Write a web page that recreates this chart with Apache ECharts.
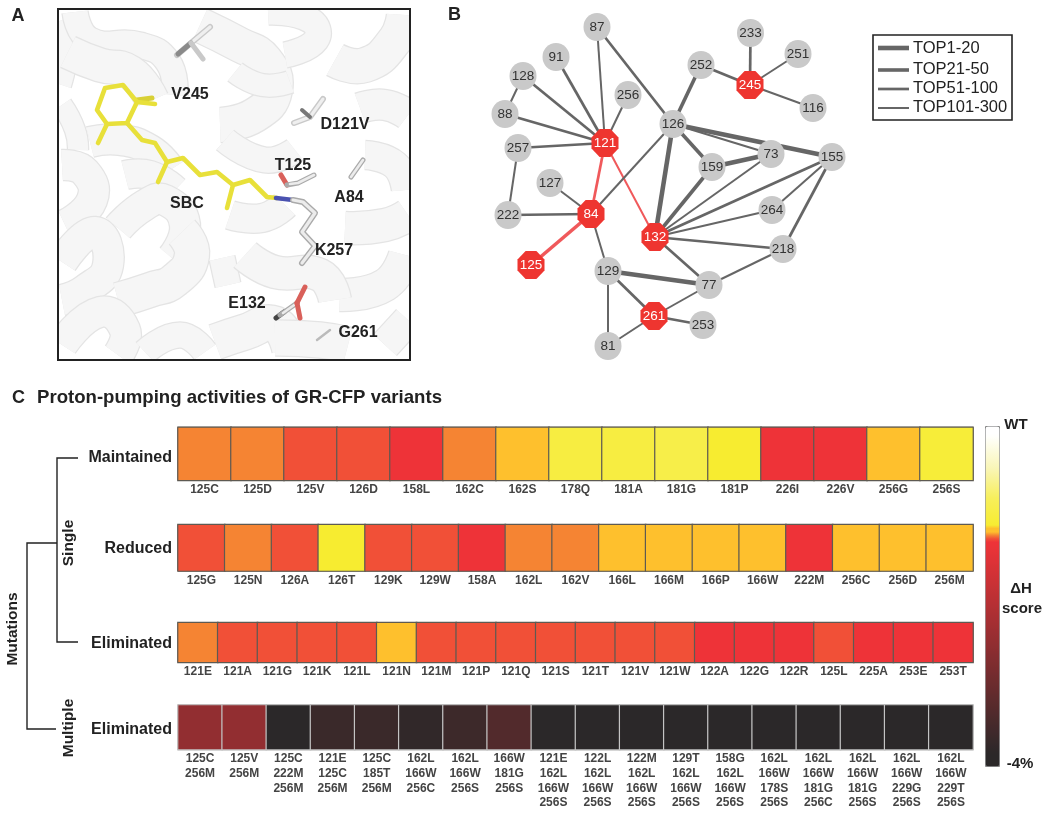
<!DOCTYPE html>
<html><head><meta charset="utf-8">
<style>html,body{margin:0;padding:0;background:#fff}#c{width:1050px;height:814px}</style>
<script src="https://cdn.jsdelivr.net/npm/echarts@6/dist/echarts.min.js"></script>
</head><body><div id="c"></div>
<script>
// ---------- Panel C data ----------
const maintainedCats = ['125C','125D','125V','126D','158L','162C','162S','178Q','181A','181G','181P','226I','226V','256G','256S'];
const maintainedVals = [-1.28,-1.28,-1.33,-1.33,-1.37,-1.28,-1.22,-1.04,-1.04,-0.98,-1.17,-1.37,-1.37,-1.22,-1.1];
const reducedCats = ['125G','125N','126A','126T','129K','129W','158A','162L','162V','166L','166M','166P','166W','222M','256C','256D','256M'];
const reducedVals = [-1.33,-1.28,-1.33,-1.17,-1.33,-1.33,-1.37,-1.28,-1.28,-1.22,-1.22,-1.22,-1.22,-1.37,-1.22,-1.22,-1.22];
const eliminatedCats = ['121E','121A','121G','121K','121L','121N','121M','121P','121Q','121S','121T','121V','121W','122A','122G','122R','125L','225A','253E','253T'];
const eliminatedVals = [-1.28,-1.33,-1.33,-1.33,-1.33,-1.22,-1.33,-1.33,-1.33,-1.33,-1.33,-1.33,-1.33,-1.37,-1.37,-1.37,-1.33,-1.37,-1.37,-1.37];
const multipleCats = ['125C\n256M','125V\n256M','125C\n222M\n256M','121E\n125C\n256M','125C\n185T\n256M','162L\n166W\n256C','162L\n166W\n256S','166W\n181G\n256S','121E\n162L\n166W\n256S','122L\n162L\n166W\n256S','122M\n162L\n166W\n256S','129T\n162L\n166W\n256S','158G\n162L\n166W\n256S','162L\n166W\n178S\n256S','162L\n166W\n181G\n256C','162L\n166W\n181G\n256S','162L\n166W\n229G\n256S','162L\n166W\n229T\n256S'];
const multipleVals = [-2.54,-2.54,-4,-3.66,-3.66,-3.78,-3.62,-3.35,-4,-4,-4,-4,-4,-4,-4,-4,-4,-4];
const rowNames = ['Maintained','Reduced','Eliminated','Eliminated'];

// ---------- Panel B data ----------
const nodeIds = ['87','91','128','88','256','121','257','126','252','245','233','251','116','73','155','159','127','84','222','132','264','218','125','129','77','261','253','81'];
const nodeX =   [597,556,523,505,628,605,518,673,701,750,750.5,798,813,771,832,712,550,591,508,655,772,783,531,608,709,654,703,608];
const nodeY =   [27,57,76,114,95,143,148,124,65,85,33,54,108,154,157,167,183,214,215,237,210,249,265,271,285,316,325,346];
const hubIds = ['121','245','84','132','125','261'];
const edgeFrom = ['87','87','91','128','128','88','256','257','257','222','127','121','121','84','84','84','126','252','245','245','245','126','126','126','126','159','159','73','155','155','155','264','218','218','132','129','129','129','77','261','261'];
const edgeTo   = ['121','126','121','121','88','121','121','121','222','84','84','84','132','125','126','129','252','245','233','251','116','73','155','159','132','73','132','132','132','264','218','132','132','77','77','77','261','81','261','253','81'];
const edgeTier = [4,3,3,3,4,3,4,3,4,3,4,3,4,2,4,4,2,3,3,4,4,4,1,2,1,1,2,4,3,4,3,4,3,4,3,1,3,4,4,3,4];
const tierNames = ['TOP1-20','TOP21-50','TOP51-100','TOP101-300'];

// ---------- Styling / layout ----------
const tierWidth = {1:4.6,2:3.6,3:2.7,4:2};
const octagon = 'path://M30,0 L70,0 L100,30 L100,70 L70,100 L30,100 L0,70 L0,30 Z';
const colorStops = [[-4,'#2b2829'],[-3.85,'#2b2829'],[-1.38,'#ee3338'],[-1.36,'#ee3338'],[-1.35,'#f15037'],[-1.31,'#f15037'],[-1.30,'#f58433'],[-1.26,'#f58433'],[-1.25,'#fec02d'],[-1.19,'#fec02d'],[-1.18,'#f7ec2f'],[-0.85,'#f7ef5a'],[-0.5,'#f9f5b5'],[-0.1,'#ffffff'],[0,'#ffffff']];
function hex(c){return [1,3,5].map(i=>parseInt(c.substr(i,2),16));}
const ramp=[];
for(let k=0;k<=400;k++){const v=-4+k*0.01;let j=0;while(j<colorStops.length-2&&v>colorStops[j+1][0])j++;
  const a=colorStops[j],b=colorStops[j+1],f=Math.min(1,Math.max(0,(v-a[0])/(b[0]-a[0])));
  const ca=hex(a[1]),cb=hex(b[1]);ramp.push('rgb('+ca.map((x,i)=>Math.round(x+(cb[i]-x)*f)).join(',')+')');}

const rows=[
 {cats:maintainedCats,vals:maintainedVals,top:427.3,h:53,border:'#5e5a52',frame:'#666',shift:4},
 {cats:reducedCats,vals:reducedVals,top:524.7,h:46.3,border:'#5e5a52',frame:'#666',shift:1},
 {cats:eliminatedCats,vals:eliminatedVals,top:622.7,h:39.6,border:'#5e5a52',frame:'#666',shift:1.5},
 {cats:multipleCats,vals:multipleVals,top:705,h:44.7,border:'#c4c4c4',frame:'#888',shift:2}];

const grids=[{left:0,top:0,width:1050,height:814,show:false}];
const xAxes=[{gridIndex:0,type:'value',min:0,max:1050,show:false}];
const yAxes=[{gridIndex:0,type:'value',min:0,max:814,inverse:true,show:false}];
const series=[];
rows.forEach((r,i)=>{
  const g=i+1;
  grids.push({left:178,width:795,top:r.top,height:r.h,show:true,borderColor:r.frame,borderWidth:1,backgroundColor:'transparent'});
  xAxes.push({gridIndex:g,type:'category',data:r.cats,axisLine:{show:false},axisTick:{show:false},splitLine:{show:false},
    axisLabel:{interval:0,margin:2,color:'#444',fontFamily:'Liberation Sans',fontSize:12,fontWeight:'bold',lineHeight:14.7,verticalAlign:'top'}});
  yAxes.push({gridIndex:g,type:'category',data:[rowNames[i]],axisLine:{show:false},axisTick:{show:false},splitLine:{show:false},
    axisLabel:{margin:6,formatter:v=>'{a|'+v+'}',rich:{a:{color:'#222',fontFamily:'Liberation Sans',fontSize:16,fontWeight:'bold',padding:[r.shift*2,0,0,0]}}}});
  series.push({type:'heatmap',xAxisIndex:g,yAxisIndex:g,data:r.vals.map((v,k)=>[k,0,v]),
    itemStyle:{borderColor:r.border,borderWidth:1.2},emphasis:{disabled:true},silent:true,animation:false});
});
const heatIdx=[0,1,2,3];

// Panel A: cartoon backdrop as ribbons and stick residues, in the same hidden pixel axes
const ribbons=[
 {w:18,p:[[62,20],[68,50],[62,85]]},
 {w:25,p:[[75,12],[90,40],[140,45],[168,62],[175,95]]},
 {w:33,p:[[68,52],[100,65],[130,72],[152,100]]},
 {w:20,p:[[62,105],[75,130],[78,150]]},
 {w:30,p:[[90,142],[120,140],[150,150],[170,170]]},
 {w:28,p:[[125,175],[150,175],[175,190]]},
 {w:30,p:[[62,165],[85,172],[92,200],[65,225]]},
 {w:30,p:[[62,262],[95,232],[108,265],[85,290],[62,300]]},
 {w:30,p:[[118,228],[145,205],[165,200],[185,225],[172,258]]},
 {w:34,p:[[118,300],[150,290],[175,280],[192,255],[182,232]]},
 {w:30,p:[[62,345],[100,312],[125,330],[118,355]]},
 {w:25,p:[[145,352],[180,335],[205,352]]},
 {w:34,p:[[220,125],[255,115],[275,90],[265,60],[240,45],[200,25]]},
 {w:25,p:[[268,12],[310,20],[316,40],[285,55]]},
 {w:22,p:[[235,72],[262,85],[290,82]]},
 {w:25,p:[[225,140],[265,160],[295,150]]},
 {w:28,p:[[230,215],[262,218],[285,205]]},
 {w:34,p:[[335,60],[365,65],[395,40],[404,15]]},
 {w:30,p:[[360,108],[385,105],[408,115]]},
 {w:28,p:[[365,155],[395,165],[406,190]]},
 {w:32,p:[[345,228],[385,225],[408,215]]},
 {w:32,p:[[340,295],[385,285],[405,255]]},
 {w:25,p:[[222,258],[228,285]]},
 {w:32,p:[[245,255],[275,272],[320,275],[335,300]]},
 {w:35,p:[[215,342],[245,332],[275,324],[290,350]]},
 {w:35,p:[[275,338],[320,340],[348,345]]},
 {w:30,p:[[385,345],[408,320]]}
];
const sticks=[
 {c:'#c9c9c9',w:6,p:[[177,55],[191,43],[210,27]]},{c:'#efefef',w:3.2,p:[[191,43],[210,27]]},
 {c:'#8a8a8a',w:5,p:[[178,54],[191,43]]},{c:'#c9c9c9',w:5,p:[[191,43],[203,59]]},
 {c:'#c9c9c9',w:6,p:[[294,123],[310,117],[323,99]]},{c:'#efefef',w:3,p:[[294,123],[310,117],[323,99]]},{c:'#777',w:4,p:[[310,117],[302,110]]},
 {c:'#d8d035',w:5,p:[[137,100],[152,98]]},
 {c:'#e8e03a',w:4.6,p:[[105,88],[123,85],[137,102],[127,123],[107,124],[97,110],[105,88]]},
 {c:'#e8e03a',w:4.6,p:[[107,124],[98,143]]},{c:'#e8e03a',w:4.6,p:[[137,102],[155,104]]},
 {c:'#e8e03a',w:4.6,p:[[127,123],[142,140],[155,143],[167,162],[183,158],[200,175],[217,172],[233,185],[250,180],[267,197],[277,198]]},
 {c:'#e8e03a',w:4.6,p:[[167,162],[158,182]]},{c:'#e8e03a',w:4.6,p:[[233,185],[227,208]]},
 {c:'#4a52b0',w:4.6,p:[[276,198],[293,200]]},
 {c:'#aaa',w:6,p:[[293,200],[303,202],[315,213],[302,232],[315,246],[302,263]]},{c:'#ececec',w:3.2,p:[[293,200],[303,202],[315,213],[302,232],[315,246],[302,263]]},
 {c:'#d9605a',w:5,p:[[287,185],[281,175]]},{c:'#aaa',w:5,p:[[287,185],[298,183],[314,175]]},{c:'#ececec',w:2.6,p:[[290,184],[298,183],[314,175]]},
 {c:'#aaa',w:5,p:[[351,177],[363,160]]},{c:'#ececec',w:2.6,p:[[351,177],[363,160]]},
 {c:'#444',w:5,p:[[276,318],[284,312]]},{c:'#aaa',w:5,p:[[280,315],[297,303]]},{c:'#ececec',w:2.6,p:[[283,313],[297,303]]},
 {c:'#d9605a',w:5,p:[[297,303],[305,287]]},{c:'#d9605a',w:5,p:[[297,303],[300,318]]},
 {c:'#bbb',w:2.4,p:[[317,340],[330,330]]}
];
const clipBox={type:'rect',shape:{x:59,y:10,width:350,height:349}};
series.push({type:'custom',xAxisIndex:0,yAxisIndex:0,silent:true,animation:false,z:1,data:ribbons.map((_,i)=>[i,0]),
  renderItem:(params,api)=>{const r=ribbons[api.value(0)],pts=r.p.map(p=>api.coord(p));
    return {type:'group',clipPath:clipBox,children:[
      {type:'polyline',shape:{points:pts,smooth:0.5},style:{fill:null,stroke:'#e4e4e4',lineWidth:r.w+2.5,lineCap:'butt',lineJoin:'round'}},
      {type:'polyline',shape:{points:pts,smooth:0.5},style:{fill:null,stroke:'#f6f6f6',lineWidth:r.w,lineCap:'butt',lineJoin:'round'}}]};}});
series.push({type:'custom',xAxisIndex:0,yAxisIndex:0,silent:true,animation:false,z:2,data:sticks.map((_,i)=>[i,0]),
  renderItem:(params,api)=>{const s=sticks[api.value(0)];return {type:'polyline',shape:{points:s.p.map(p=>api.coord(p))},
    style:{fill:null,stroke:s.c,lineWidth:s.w,lineCap:'round',lineJoin:'round'}};}});

// Panel B network
const nodes=nodeIds.map((id,i)=>{const hub=hubIds.includes(id);return {name:id,value:[nodeX[i],nodeY[i]],
  symbol:hub?octagon:'circle',symbolSize:[27,28],itemStyle:{color:hub?'#ee3530':'#c9c9c9'},
  label:{color:hub?'#fff':'#333'}};});
const links=edgeFrom.map((a,i)=>{const b=edgeTo[i];const red=hubIds.includes(a)&&hubIds.includes(b);
  return {source:a,target:b,lineStyle:{width:tierWidth[edgeTier[i]],color:red?'#f0595b':'#666',opacity:1,curveness:0}};});
series.push({type:'graph',coordinateSystem:'cartesian2d',xAxisIndex:0,yAxisIndex:0,layout:'none',silent:true,animation:false,z:3,
  data:nodes,links:links,edgeSymbol:['none','none'],
  label:{show:true,position:'inside',formatter:'{b}',fontFamily:'Liberation Sans',fontSize:13.5},emphasis:{disabled:true}});

const T=(text,x,y,o)=>Object.assign({type:'text',z:20,silent:true,x:x,y:y,style:Object.assign({text:text,fontFamily:'Liberation Sans',fontWeight:'bold',fontSize:16,fill:'#222',align:'center',verticalAlign:'middle'},o||{})},{});
const L=(pts,w,c)=>({type:'polyline',z:20,silent:true,shape:{points:pts},style:{fill:null,stroke:c||'#222',lineWidth:w||1.4}});
const rot=(e)=>{e.rotation=Math.PI/2;return e;};
const legendFont={align:'left',fontWeight:'normal',fontSize:16.5};
const graphic=[
 {type:'rect',z:19,silent:true,shape:{x:58,y:9,width:352,height:351},style:{fill:null,stroke:'#222',lineWidth:2}},
 T('A',18,16,{fontSize:18}),T('B',454.5,15,{fontSize:18}),T('C',18.5,398,{fontSize:18}),
 T('Proton-pumping activities of GR-CFP variants',37,398,{fontSize:18.6,align:'left'}),
 T('V245',190,95),T('D121V',345,125),T('T125',293,166),T('A84',349,198),T('SBC',187,204),T('K257',334,251),T('E132',247,304),T('G261',358,333),
 // legend of panel B
 {type:'rect',z:19,silent:true,shape:{x:873,y:35,width:139,height:85},style:{fill:'#fff',stroke:'#222',lineWidth:1.6}},
 L([[878,48],[909,48]],tierWidth[1],'#666'),L([[878,70],[909,70]],tierWidth[2],'#666'),L([[878,89],[909,89]],tierWidth[3],'#666'),L([[878,108],[909,108]],tierWidth[4],'#666'),
 T(tierNames[0],913,48,legendFont),T(tierNames[1],913,69,legendFont),T(tierNames[2],913,88,legendFont),T(tierNames[3],913,107.5,legendFont),
 // bracket
 L([[78,458],[57,458],[57,642],[78,642]]),L([[57,543],[27,543],[27,729],[56,729]]),
 rot(T('Single',69,543,{fontSize:15.5})),rot(T('Multiple',69,728,{fontSize:15.5})),rot(T('Mutations',13,629,{fontSize:15.5})),
 // colour bar captions
 T('WT',1016,425,{fontSize:15}),T('ΔH',1021,589,{fontSize:15}),T('score',1022,609,{fontSize:15}),T('-4%',1020,764,{fontSize:15})
];

const chart=echarts.init(document.getElementById('c'),null,{renderer:'canvas'});
chart.setOption({animation:false,backgroundColor:'#fff',grid:grids,xAxis:xAxes,yAxis:yAxes,series:series,graphic:graphic,
  visualMap:{type:'continuous',min:-4,max:0,seriesIndex:heatIdx,calculable:false,show:true,left:985,top:426,itemWidth:14,itemHeight:340,padding:0,
    borderColor:'#888',borderWidth:1,text:null,inRange:{color:ramp},hoverLink:false,realtime:false}});
</script></body></html>
